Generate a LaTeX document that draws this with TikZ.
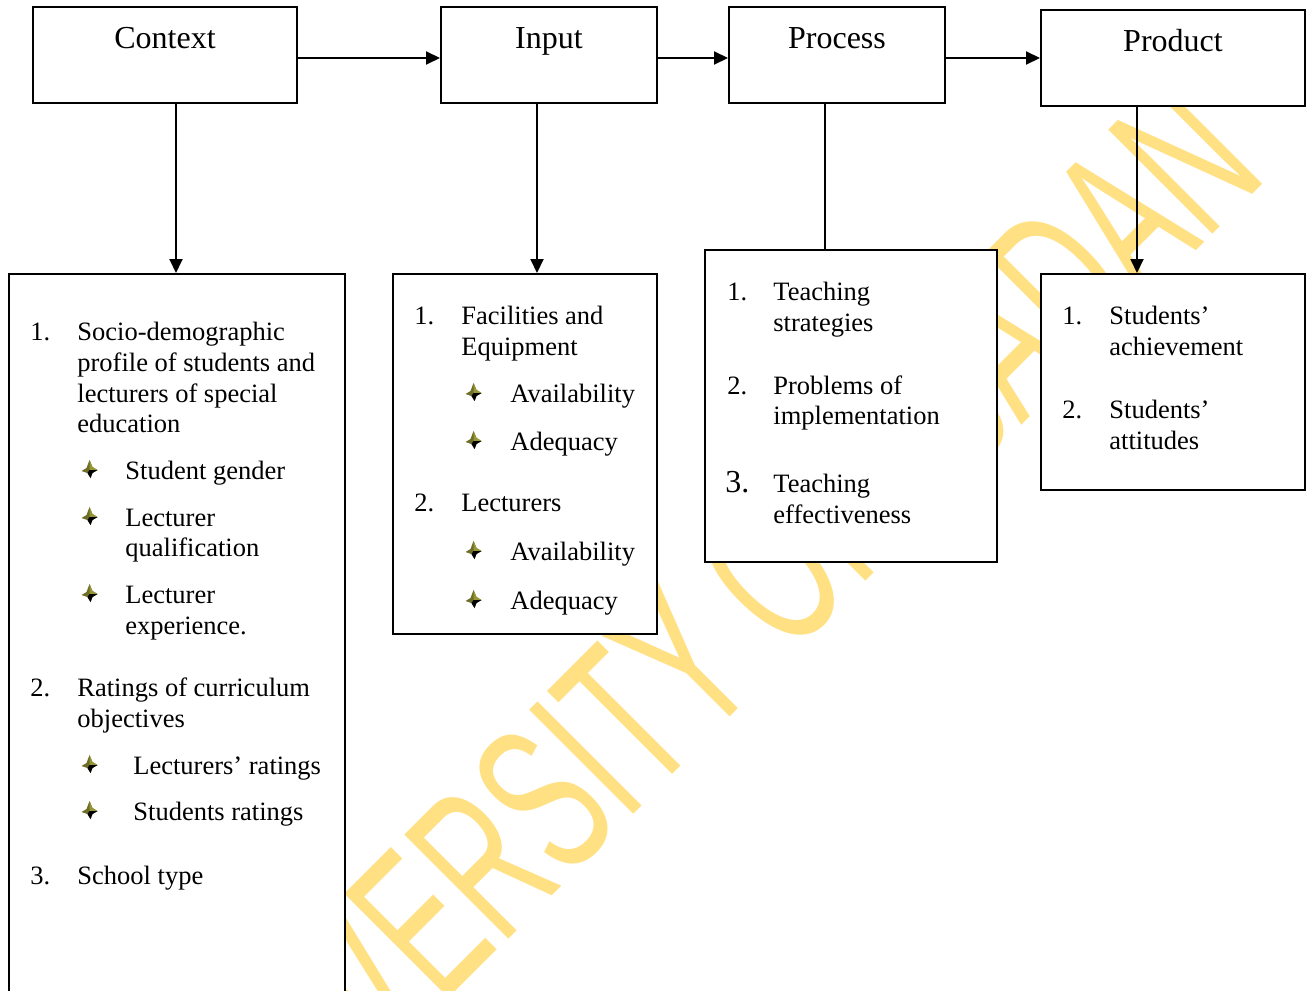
\documentclass[tikz,border=0pt]{standalone}
\usepackage{fontspec}
\setmainfont{Liberation Serif}
\newfontfamily\wmfont{Liberation Sans}
\usetikzlibrary{arrows.meta,fit}
\definecolor{wmyellow}{RGB}{255,224,130}
\definecolor{olivebul}{RGB}{110,110,40}
\definecolor{olivelight}{RGB}{150,150,55}
\tikzset{
  bul/.pic={
    \fill[olivebul] (0,-9) -- (3,-2) -- (8,1) -- (3,4) -- (1,9) -- (-2,4) -- (-8,2) -- (-3,-1) -- cycle;
    \fill[olivelight] (0,-9) -- (3,-2) -- (8,1) -- (0,1) -- cycle;
    \fill[black] (0,1) -- (8,1) -- (3,4) -- (1,9) -- (-2,4) -- cycle;
  }
}
\begin{document}
\begin{tikzpicture}[x=0.5pt,y=-0.5pt,
  box/.style={draw=black, line width=1pt, fill=white, inner sep=0pt},
  title/.style={anchor=base, font=\fontsize{16}{19}\selectfont, inner sep=0pt},
  txt/.style={anchor=base west, font=\fontsize{13.25}{15.5}\selectfont, inner sep=0pt},
  bignum/.style={anchor=base west, font=\fontsize{16}{19}\selectfont, inner sep=0pt},
  arr/.style={line width=1pt, -{Triangle[length=7pt,width=6.5pt]}},
  ln/.style={line width=1pt},
  wm/.style={anchor=base west, inner sep=0pt, text=wmyellow,
    font=\wmfont\fontsize{107}{107}\selectfont, rotate=45, xscale=0.59}
]
\useasboundingbox (0,0) rectangle (1308,991);
\clip (0,0) rectangle (1308,991);
\fill[white] (0,0) rectangle (1308,991);

% watermark
\node[wm] (wmark) at (228,1219) {UNIVERSITY OF IBADAN};

% top boxes
\node[box, fit={(33,7) (297,103)}] (ctx) {};
\node[box, fit={(441,7) (657,103)}] (inp) {};
\node[box, fit={(729,7) (945,103)}] (prc) {};
\node[box, fit={(1041,10) (1305,106)}] (prd) {};
\node[title] (ctxT) at (165,48) {Context};
\node[title] (inpT) at (549,48) {Input};
\node[title] (prcT) at (837,48) {Process};
\node[title] (prdT) at (1173,51) {Product};

% lower boxes
\node[box, fit={(9,274) (345,1010)}] (ctxL) {};
\node[box, fit={(393,274) (657,634)}] (inpL) {};
\node[box, fit={(705,250) (997,562)}] (prcL) {};
\node[box, fit={(1041,274) (1305,490)}] (prdL) {};

% horizontal arrows
\draw[arr] ([yshift=-1.5pt]ctx.east) -- ([yshift=-1.5pt]ctx.east -| inp.west);
\draw[arr] ([yshift=-1.5pt]inp.east) -- ([yshift=-1.5pt]inp.east -| prc.west);
\draw[arr] ([yshift=-1.5pt]prc.east) -- ([yshift=-1.5pt]prc.east -| prd.west);

% vertical connectors
\draw[arr] ([xshift=5.5pt]ctx.south) -- ([xshift=5.5pt]ctx.south |- ctxL.north);
\draw[arr] ([xshift=-6pt]inp.south) -- ([xshift=-6pt]inp.south |- inpL.north);
\draw[ln] ([xshift=-6pt]prc.south) -- ([xshift=-6pt]prc.south |- prcL.north);
\draw[arr] ([xshift=-18pt]prd.south) -- ([xshift=-18pt]prd.south |- prdL.north);

% Context list
\node[txt] (c1n) at (30,340) {1.};
\node[txt] (c1a) at (77,340) {Socio-demographic};
\node[txt] (c1b) at (77,371) {profile of students and};
\node[txt] (c1c) at (77,402) {lecturers of special};
\node[txt] (c1d) at (77,432) {education};
\pic (cb1) at (89.5,469) {bul};
\node[txt] (c1e) at (125,479) {Student gender};
\pic (cb2) at (89.5,516) {bul};
\node[txt] (c1f) at (125,526) {Lecturer};
\node[txt] (c1g) at (125,556) {qualification};
\pic (cb3) at (89.5,593) {bul};
\node[txt] (c1h) at (125,603) {Lecturer};
\node[txt] (c1i) at (125,634) {experience.};
\node[txt] (c2n) at (30,696) {2.};
\node[txt] (c2a) at (77,696) {Ratings of curriculum};
\node[txt] (c2b) at (77,727) {objectives};
\pic (cb4) at (89.5,764) {bul};
\node[txt] (c2c) at (133,774) {Lecturers’ ratings};
\pic (cb5) at (89.5,810) {bul};
\node[txt] (c2d) at (133,820) {Students ratings};
\node[txt] (c3n) at (30,884) {3.};
\node[txt] (c3a) at (77,884) {School type};

% Input list
\node[txt] (i1n) at (414,324) {1.};
\node[txt] (i1a) at (461,324) {Facilities and};
\node[txt] (i1b) at (461,355) {Equipment};
\pic (ib1) at (473.5,392) {bul};
\node[txt] (i1c) at (510,402) {Availability};
\pic (ib2) at (473.5,440) {bul};
\node[txt] (i1d) at (510,450) {Adequacy};
\node[txt] (i2n) at (414,511) {2.};
\node[txt] (i2a) at (461,511) {Lecturers};
\pic (ib3) at (473.5,550) {bul};
\node[txt] (i2b) at (510,560) {Availability};
\pic (ib4) at (473.5,599) {bul};
\node[txt] (i2c) at (510,609) {Adequacy};

% Process list
\node[txt] (p1n) at (727,300) {1.};
\node[txt] (p1a) at (773,300) {Teaching};
\node[txt] (p1b) at (773,331) {strategies};
\node[txt] (p2n) at (727,394) {2.};
\node[txt] (p2a) at (773,394) {Problems of};
\node[txt] (p2b) at (773,424) {implementation};
\node[bignum] (p3n) at (725,492) {3.};
\node[txt] (p3a) at (773,492) {Teaching};
\node[txt] (p3b) at (773,523) {effectiveness};

% Product list
\node[txt] (d1n) at (1062,324) {1.};
\node[txt] (d1a) at (1109,324) {Students’};
\node[txt] (d1b) at (1109,355) {achievement};
\node[txt] (d2n) at (1062,418) {2.};
\node[txt] (d2a) at (1109,418) {Students’};
\node[txt] (d2b) at (1109,449) {attitudes};
\end{tikzpicture}
\end{document}
